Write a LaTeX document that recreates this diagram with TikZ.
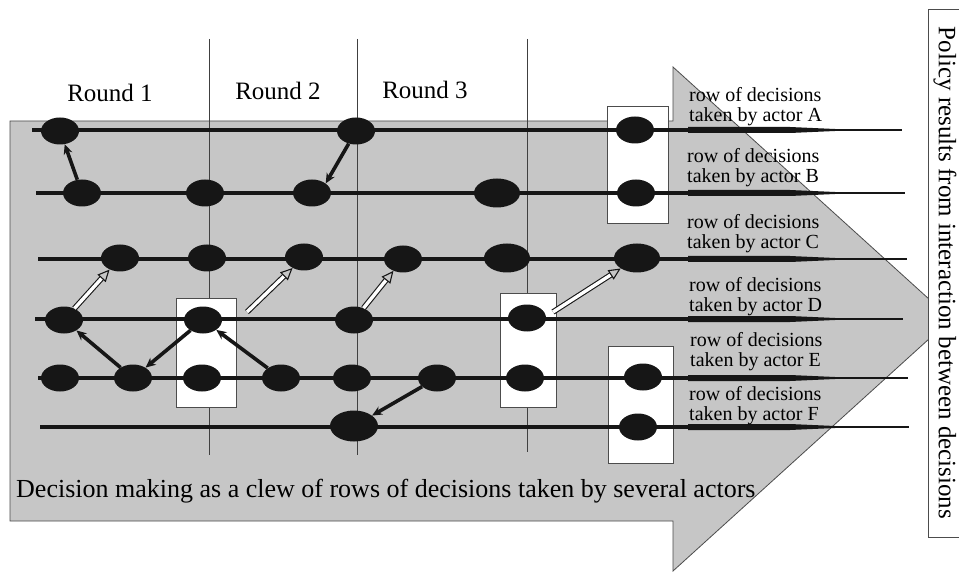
\documentclass[tikz,border=0pt]{standalone}
\usepackage{fontspec}
\setmainfont{Liberation Serif}
\usetikzlibrary{shapes.geometric,arrows.meta}
\definecolor{arrowgray}{RGB}{198,198,198}
\definecolor{decblack}{RGB}{22,22,22}
\begin{document}
\begin{tikzpicture}[x=1pt,y=-1pt,
    dec/.style={ellipse,fill=decblack,minimum width=38,minimum height=27,inner sep=0pt},
    bigdec/.style={dec,minimum width=46,minimum height=29},
    rowline/.style={decblack,line width=3.6},
    roundline/.style={black!75,line width=0.9},
    groupbox/.style={draw=black!70,fill=white,line width=0.8},
    act/.style={decblack,line width=3.6,-{Stealth[length=10pt,width=9pt]}},
    hollow/.style={draw=decblack,line width=1.1,double=white,double distance=3.4,-{Triangle[open,length=12pt,width=11pt]}},
    rowlabel/.style={anchor=west,align=left,inner sep=0pt,font=\fontsize{20}{20}\selectfont},
    roundlabel/.style={font=\fontsize{25}{28}\selectfont}]
  \useasboundingbox (0,0) rectangle (959,572);
  \fill[white] (0,0) rectangle (959,572);

  % big arrow
  \filldraw[fill=arrowgray,draw=black!70,line width=0.8] (10,121) -- (673,121) -- (673,67) -- (951,319) -- (673,571) -- (673,521) -- (10,521) -- cycle;

  % round separators
  \draw[roundline] (209,39) -- (209,455);
  \draw[roundline] (357,39) -- (357,455);
  \draw[roundline] (527,39) -- (527,452);

  % joint decisions
  \draw[groupbox] (176,298) rectangle (236,407);
  \draw[groupbox] (500,293) rectangle (556,407);
  \draw[groupbox] (607,106) rectangle (668,223);
  \draw[groupbox] (608,346) rectangle (673,463);

  % rows of decisions
  \foreach \y/\xa/\xb in {130/32/902,193/36/905,259/38/907,319/35/903,378/38/908,427/40/909}{
    \draw[decblack,line width=1.3] (\xa,\y) -- (\xb,\y);
    \draw[rowline] (\xa,\y) -- (689,\y);
    \fill[decblack] (688,\y-3) -- (790,\y-3) -- (835,\y-1) -- (835,\y+1) -- (790,\y+3) -- (688,\y+3) -- cycle;
  }

  % decisions, actor A to F
  \node[dec] (a1) at (60,131) {};
  \node[dec] (a2) at (356,131) {};
  \node[dec] (a3) at (635,130) {};

  \node[dec] (b1) at (82,193) {};
  \node[dec] (b2) at (205,193) {};
  \node[dec] (b3) at (312,193) {};
  \node[bigdec] (b4) at (497,193) {};
  \node[dec] (b5) at (636,193) {};

  \node[dec] (c1) at (120,258) {};
  \node[dec] (c2) at (207,258) {};
  \node[dec] (c3) at (304,257) {};
  \node[dec] (c4) at (403,259) {};
  \node[bigdec] (c5) at (507,258) {};
  \node[bigdec] (c6) at (637,258) {};

  \node[dec] (d1) at (64,320) {};
  \node[dec] (d2) at (203,320) {};
  \node[dec] (d3) at (354,320) {};
  \node[dec] (d4) at (527,318) {};

  \node[dec] (e1) at (60,378) {};
  \node[dec] (e2) at (133,378) {};
  \node[dec] (e3) at (202,378) {};
  \node[dec] (e4) at (281,378) {};
  \node[dec] (e5) at (352,378) {};
  \node[dec] (e6) at (437,378) {};
  \node[dec] (e7) at (525,378) {};
  \node[dec] (e8) at (643,377) {};

  \node[dec,minimum width=48,minimum height=31] (f1) at (354,426) {};
  \node[dec] (f2) at (638,427) {};

  % interactions
  \draw[act] (b1) -- (a1);
  \draw[act] (a2) -- (b3.35);
  \draw[act] (e2) -- (d1);
  \draw[act] (d2) -- (e2);
  \draw[act] (e4) -- (d2);
  \draw[act] (e6) -- (f1);

  \coordinate (d2out) at (247,312);
  \coordinate (d4out) at (553,312);
  \draw[hollow] (d1) -- (c1);
  \draw[hollow] (d2out) -- (c3);
  \draw[hollow] (d3) -- (c4);
  \draw[hollow] (d4out) -- (c6);

  % labels
  \node[roundlabel] (round1) at (110,93) {Round 1};
  \node[roundlabel] (round2) at (278,91) {Round 2};
  \node[roundlabel] (round3) at (425,90) {Round 3};

  \node[rowlabel] (labela) at (689,107) {row of decisions\\taken by actor A};
  \node[rowlabel] (labelb) at (687,168) {row of decisions\\taken by actor B};
  \node[rowlabel] (labelc) at (687,234) {row of decisions\\taken by actor C};
  \node[rowlabel] (labeld) at (689,297) {row of decisions\\taken by actor D};
  \node[rowlabel] (labele) at (690,352) {row of decisions\\taken by actor E};
  \node[rowlabel] (labelf) at (689,406) {row of decisions\\taken by actor F};

  \node[anchor=base west,inner sep=0pt,font=\fontsize{26}{29}\selectfont] (clew) at (16,497) {Decision making as a clew of rows of decisions taken by several actors};

  \draw[groupbox] (928,9) rectangle (985,537);
  \node[rotate=-90,font=\fontsize{25}{28}\selectfont] (policy) at (945,273) {Policy results from interaction between decisions};
\end{tikzpicture}
\end{document}
